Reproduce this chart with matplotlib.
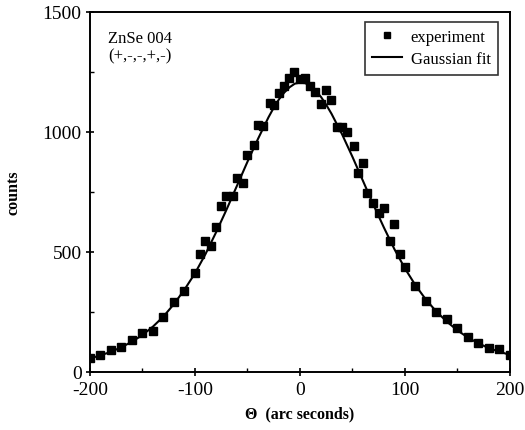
import numpy as np
from matplotlib import pyplot as plt

plt.rcParams['font.family'] = ['Liberation Serif', 'DejaVu Serif']
plt.rcParams['axes.unicode_minus'] = False

# measured points (arc seconds, counts)
theta = [-200, -190, -180, -170, -160, -150, -140, -130, -120, -110,
         -100, -95, -90, -85, -80, -75, -70, -64, -60, -54,
         -50, -44, -40, -35, -29, -25, -20, -15, -10, -6,
         0, 5, 10, 14, 20, 25, 30, 35, 40, 45,
         51, 55, 60, 64, 70, 75, 80, 86, 90, 95,
         100, 110, 120, 130, 140, 150, 160, 170, 180, 190, 200]
counts = [56, 69, 90, 101, 133, 160, 168, 229, 289, 335,
          411, 490, 543, 522, 604, 689, 732, 732, 806, 787,
          903, 946, 1028, 1022, 1119, 1110, 1160, 1192, 1224, 1250,
          1219, 1222, 1189, 1164, 1115, 1175, 1133, 1018, 1018, 1000,
          942, 828, 869, 744, 703, 660, 682, 543, 615, 489,
          437, 358, 296, 247, 219, 181, 143, 119, 99, 94, 71]

# fit curve
fit_theta = [-200, -190, -180, -170, -160, -150, -140, -130, -120, -110,
             -100, -90, -80, -70, -60, -50, -40, -30, -25, -20, -15, -10, -5,
             0, 5, 10, 15, 20, 25, 30, 40, 50, 60, 70, 80, 90,
             100, 110, 120, 130, 140, 150, 160, 170, 180, 190, 200]
fit_counts = [55, 68, 83, 102, 125, 153, 188, 230, 282, 342,
              410, 490, 580, 675, 775, 875, 970, 1060, 1100, 1135, 1163, 1185, 1200,
              1205, 1202, 1190, 1170, 1145, 1112, 1075, 990, 895, 795, 695, 600, 510,
              430, 360, 300, 250, 208, 172, 142, 118, 98, 83, 70]

fig = plt.figure(figsize=(5.25, 4.31), dpi=100)
ax = fig.add_axes([0.1714, 0.1353, 0.8, 0.8352])

ax.plot(fit_theta, fit_counts, color='black', lw=1.5, label='Gaussian fit', zorder=2)
ax.plot(theta, counts, ls='none', marker='s', ms=6, color='black',
        label='experiment', zorder=3)

ax.set_xlim(-200, 200)
ax.set_ylim(0, 1500)
ax.set_xticks([-200, -100, 0, 100, 200])
ax.set_xticks([-150, -50, 50, 150], minor=True)
ax.set_yticks([0, 500, 1000, 1500])
ax.set_yticks([250, 750, 1250], minor=True)
ax.tick_params(which='major', direction='inout', length=6, width=1.2, labelsize=14)
ax.tick_params(axis='x', which='major', pad=4)
ax.tick_params(axis='y', which='major', pad=3)
ax.tick_params(which='minor', direction='in', length=3, width=1.0)
for s in ax.spines.values():
    s.set_linewidth(1.4)

ax.set_xlabel('Θ  (arc seconds)', fontsize=11.5, fontweight='bold', labelpad=5)
ax.set_ylabel('counts', fontsize=11.5, fontweight='bold', labelpad=15)

ax.text(0.043, 0.95, 'ZnSe 004\n(+,-,-,+,-)', transform=ax.transAxes,
        fontsize=12, va='top', ha='left', linespacing=1.1)

h, l = ax.get_legend_handles_labels()
leg = ax.legend(h[::-1], l[::-1], loc='upper right', bbox_to_anchor=(0.972, 0.972),
                borderaxespad=0, fontsize=12, frameon=True, fancybox=False,
                handlelength=1.8, handletextpad=0.5, markerscale=0.7,
                borderpad=0.45, labelspacing=0.35)
leg.get_frame().set_edgecolor('black')
leg.get_frame().set_linewidth(1.2)

plt.savefig('out.png', dpi=100)
